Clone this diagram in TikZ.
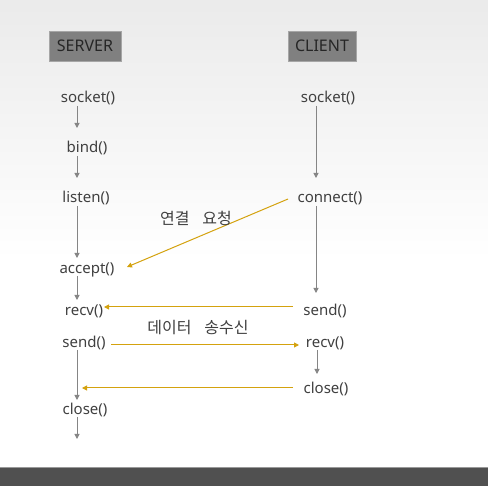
\documentclass[tikz,border=0pt]{standalone}
\usepackage{fontspec}
\setmainfont{Noto Sans}
\newfontfamily\kr{Noto Sans CJK KR}
\usetikzlibrary{arrows.meta}
\definecolor{txt}{HTML}{404040}
\definecolor{garr}{HTML}{858585}
\definecolor{gold}{HTML}{D4A20E}
\definecolor{hdr}{HTML}{808080}
\definecolor{bar}{HTML}{505050}
\tikzset{
  fn/.style={text=txt, font=\fontsize{15}{17}\selectfont, inner sep=1pt},
  hd/.style={fill=hdr, draw=hdr!70!white, line width=0.8pt, text=black!85, font=\fontsize{16}{18}\selectfont, minimum height=30pt, inner xsep=0pt},
  lbl/.style={text=txt, font=\kr\fontsize{16}{18}\selectfont, inner sep=0pt},
  flow/.style={draw=garr, line width=1pt, -{Triangle[length=5pt,width=5pt]}},
  msg/.style={draw=gold, line width=1pt, -{Triangle[length=5pt,width=5pt]}},
}
\begin{document}
\begin{tikzpicture}[x=1pt,y=-1pt]
\useasboundingbox (0,0) rectangle (488,486);
\shade[top color=black!8, bottom color=white] (0,0) rectangle (488,260);
\fill[white] (0,260) rectangle (488,468);
\fill[bar] (0,468) rectangle (488,486);
\draw[black!40, line width=1pt] (0,468) -- (488,468);
% headers
\node[hd, minimum width=72pt] (srv) at (85,46) {SERVER};
\node[hd, minimum width=68pt] (cli) at (322,46) {CLIENT};
% server column
\node[fn] (s1) at (88,98) {socket()};
\node[fn] (s2) at (87,148) {bind()};
\node[fn] (s3) at (86,198) {listen()};
\node[fn] (s4) at (87,270) {accept()};
\node[fn] (s5) at (84,311) {recv()};
\node[fn] (s6) at (84,343) {send()};
\node[fn] (s7) at (85,410) {close()};
\coordinate (send) at (77,439);
% client column
\node[fn] (c1) at (328,98) {socket()};
\node[fn] (c2) at (330,198) {connect()};
\node[fn] (c3) at (325,311) {send()};
\node[fn] (c4) at (325,343) {recv()};
\node[fn] (c5) at (326,389) {close()};
% server flow
\draw[flow] (77,106) -- (77,128);
\draw[flow] (77,156) -- (77,178);
\draw[flow] (77,206) -- (77,258);
\draw[flow] (77,276) -- (77,300);
\draw[flow] (77,350) -- (77,400);
\draw[flow] (77,417) -- (send);
% client flow
\draw[flow] (316,106) -- (316,178);
\draw[flow] (316,206) -- (316,293);
\draw[flow] (317,350) -- (317,374);
% messages
\draw[msg] (288,199) -- (127,267);
\draw[msg] (293,307) -- (104,307);
\draw[msg] (111,345) -- (299,345);
\draw[msg] (293,388) -- (82,388);
\node[lbl] (l1) at (196,218) {연결\hspace{0.8em}요청};
\node[lbl] (l2) at (198,328) {데이터\hspace{0.8em}송수신};
\end{tikzpicture}
\end{document}
